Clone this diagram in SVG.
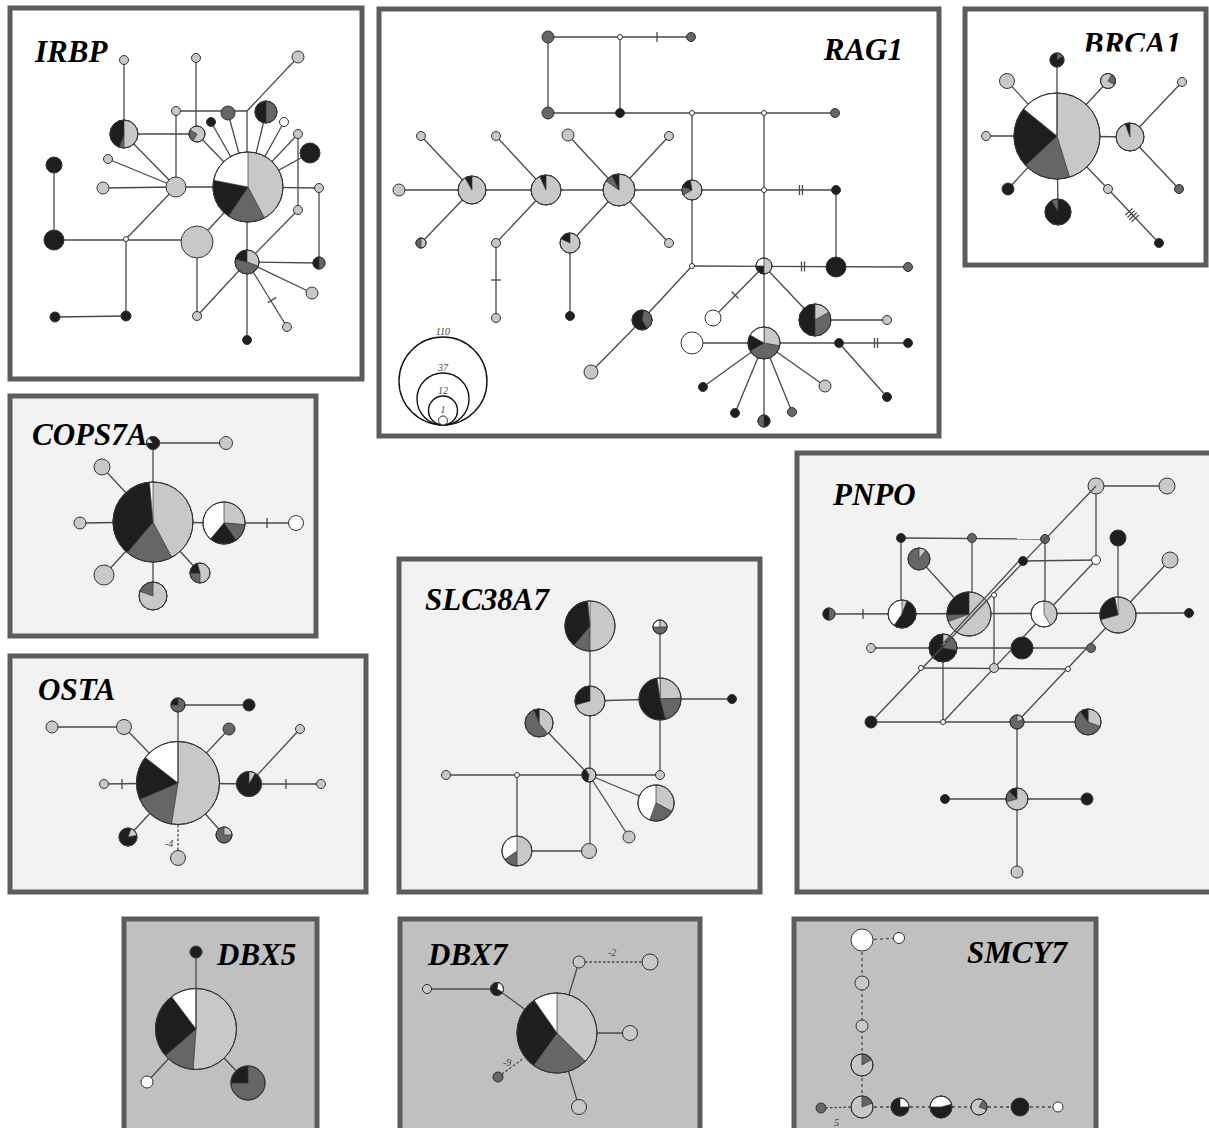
<svg xmlns="http://www.w3.org/2000/svg" width="1209" height="1128" viewBox="0 0 1209 1128">
<style>
.pw{fill:#fff;stroke:#5c5c5c;stroke-width:5}
.pm{fill:#f2f2f2;stroke:#5c5c5c;stroke-width:5}
.pg{fill:#c0c0c0;stroke:#5c5c5c;stroke-width:5}
.t{font-family:"Liberation Serif","Times New Roman",serif;font-weight:bold;font-style:italic;font-size:31px;fill:#000}
.s{font-family:"Liberation Serif","Times New Roman",serif;font-style:italic;font-size:10px;fill:#444}
.e line,.e path,line.e,path.e{stroke:#4a4a4a;stroke-width:1.3;fill:none}
.dash{stroke:#333;stroke-width:1.4;stroke-dasharray:2.5 2;fill:none}
.gd{stroke:#8a8a8a;stroke-width:1.2;stroke-dasharray:3 3;fill:none}
circle{stroke:#333;stroke-width:1}
.L{fill:#c8c8c8}.D{fill:#666}.B{fill:#1e1e1e}.W{fill:#fff}
path.L,path.D,path.B,path.W{stroke:#333;stroke-width:0.7}
.o{fill:none}
.lg{fill:none;stroke:#111;stroke-width:1.4}
</style>
<defs>
<clipPath id="brcaClip"><rect x="965" y="20" width="240" height="31.5"/></clipPath>
</defs>

<g id="panels">
<rect class="pw" x="10" y="8" width="352" height="371"/>
<rect class="pw" x="379" y="9" width="560" height="427"/>
<rect class="pw" x="965" y="9" width="241" height="256"/>
<rect class="pm" x="10" y="396" width="306" height="240"/>
<rect class="pm" x="10" y="656" width="356" height="236"/>
<rect class="pm" x="399" y="559" width="361" height="333"/>
<rect class="pm" x="797" y="453" width="420" height="439"/>
<rect class="pg" x="124" y="919" width="193" height="220"/>
<rect class="pg" x="400" y="919" width="300" height="220"/>
<rect class="pg" x="794" y="919" width="302" height="220"/>
</g>

<g id="titles">
<text class="t" x="35" y="62">IRBP</text>
<text class="t" x="903" y="60" text-anchor="end">RAG1</text>
<text class="t" x="1083" y="54" clip-path="url(#brcaClip)">BRCA1</text>
<text class="t" x="32" y="445">COPS7A</text>
<text class="t" x="38" y="700">OSTA</text>
<text class="t" x="425" y="610">SLC38A7</text>
<text class="t" x="833" y="505">PNPO</text>
<text class="t" x="217" y="965">DBX5</text>
<text class="t" x="428" y="965">DBX7</text>
<text class="t" x="967" y="963">SMCY7</text>
</g>

<g id="connectors" class="e">
<g id="irbp-edges">
<line x1="124" y1="60" x2="124" y2="134"/>
<line x1="124" y1="134" x2="197" y2="134"/>
<line x1="196" y1="58" x2="196" y2="134"/>
<line x1="176" y1="111" x2="247" y2="111"/>
<line x1="298" y1="57" x2="247" y2="111"/>
<line x1="247" y1="111" x2="247" y2="187"/>
<line x1="176" y1="111" x2="176" y2="187"/>
<line x1="124" y1="134" x2="176" y2="187"/>
<line x1="108" y1="159" x2="176" y2="187"/>
<line x1="103" y1="188" x2="176" y2="187"/>
<line x1="176" y1="187" x2="248" y2="187"/>
<line x1="197" y1="134" x2="248" y2="187"/>
<line x1="211" y1="122" x2="248" y2="187"/>
<line x1="228" y1="113" x2="248" y2="187"/>
<line x1="266" y1="112" x2="248" y2="187"/>
<line x1="284" y1="122" x2="248" y2="187"/>
<line x1="298" y1="134" x2="248" y2="187"/>
<line x1="310" y1="153" x2="248" y2="187"/>
<line x1="248" y1="187" x2="319" y2="188"/>
<line x1="319" y1="188" x2="319" y2="263"/>
<line x1="298" y1="134" x2="298" y2="210"/>
<line x1="298" y1="210" x2="247" y2="262"/>
<line x1="247" y1="262" x2="319" y2="263"/>
<line x1="247" y1="262" x2="312" y2="293"/>
<line x1="247" y1="262" x2="287" y2="327"/>
<line x1="267.7" y1="302.6" x2="276.3" y2="297.4"/>
<line x1="247" y1="187" x2="247" y2="340"/>
<line x1="247" y1="262" x2="197" y2="316"/>
<line x1="197" y1="242" x2="197" y2="316"/>
<line x1="248" y1="187" x2="197" y2="242"/>
<line x1="54" y1="240" x2="197" y2="240"/>
<line x1="54" y1="165" x2="54" y2="240"/>
<line x1="126" y1="239" x2="176" y2="187"/>
<line x1="126" y1="239" x2="126" y2="316"/>
<line x1="55" y1="317" x2="126" y2="316"/>
</g>
<g id="rag1-edges">
<line x1="548" y1="37" x2="691" y2="37"/>
<line x1="657" y1="32" x2="657" y2="42"/>
<line x1="548" y1="37" x2="548" y2="113"/>
<line x1="620" y1="37" x2="620" y2="113"/>
<line x1="548" y1="113" x2="835" y2="113"/>
<line x1="692" y1="113" x2="692" y2="266"/>
<line x1="764" y1="113" x2="764" y2="343"/>
<line x1="399" y1="190" x2="835" y2="190"/>
<line x1="799.5" y1="185" x2="799.5" y2="195"/>
<line x1="802.5" y1="185" x2="802.5" y2="195"/>
<line x1="836" y1="190" x2="836" y2="267"/>
<line x1="692" y1="266" x2="908" y2="267"/>
<line x1="801.5" y1="261.5" x2="801.5" y2="271.5"/>
<line x1="804.5" y1="261.5" x2="804.5" y2="271.5"/>
<line x1="421" y1="136" x2="472" y2="190"/>
<line x1="421" y1="243" x2="472" y2="190"/>
<line x1="496" y1="136" x2="546" y2="190"/>
<line x1="496" y1="243" x2="546" y2="190"/>
<line x1="496" y1="243" x2="496" y2="318"/>
<line x1="491" y1="280" x2="501" y2="280"/>
<line x1="568" y1="135" x2="619" y2="190"/>
<line x1="570" y1="243" x2="619" y2="190"/>
<line x1="669" y1="136" x2="619" y2="190"/>
<line x1="669" y1="243" x2="619" y2="190"/>
<line x1="570" y1="243" x2="570" y2="316"/>
<line x1="692" y1="266" x2="642" y2="320"/>
<line x1="642" y1="320" x2="591" y2="372"/>
<line x1="764" y1="266" x2="713" y2="318"/>
<line x1="731.5" y1="291.5" x2="738.5" y2="298.5"/>
<line x1="764" y1="266" x2="815" y2="320"/>
<line x1="815" y1="320" x2="887" y2="320"/>
<line x1="692" y1="343" x2="908" y2="343"/>
<line x1="874.5" y1="338" x2="874.5" y2="348"/>
<line x1="877.5" y1="338" x2="877.5" y2="348"/>
<line x1="839" y1="343" x2="887" y2="397"/>
<line x1="764" y1="343" x2="703" y2="387"/>
<line x1="764" y1="343" x2="735" y2="413"/>
<line x1="764" y1="343" x2="764" y2="421"/>
<line x1="764" y1="343" x2="792" y2="412"/>
<line x1="764" y1="343" x2="825" y2="386"/>
</g>
<g id="brca1-edges">
<line x1="1057" y1="136" x2="1057" y2="60"/>
<line x1="1057" y1="136" x2="1007" y2="81"/>
<line x1="1057" y1="136" x2="1108" y2="81"/>
<line x1="1057" y1="136" x2="986" y2="136"/>
<line x1="1057" y1="136" x2="1130" y2="137"/>
<line x1="1057" y1="136" x2="1008" y2="189"/>
<line x1="1057" y1="136" x2="1058" y2="212"/>
<line x1="1057" y1="136" x2="1108" y2="189"/>
<line x1="1130" y1="137" x2="1182" y2="82"/>
<line x1="1130" y1="137" x2="1179" y2="189"/>
<line x1="1108" y1="189" x2="1159" y2="243"/>
<line x1="1125.3" y1="215.3" x2="1132.6" y2="208.4"/>
<line x1="1127.4" y1="217.5" x2="1134.7" y2="210.6"/>
<line x1="1129.4" y1="219.7" x2="1136.7" y2="212.8"/>
<line x1="1131.5" y1="221.9" x2="1138.8" y2="215"/>
</g>
<g id="cops7a-edges">
<line x1="153" y1="443" x2="226" y2="443"/>
<line x1="153" y1="443" x2="153" y2="522"/>
<line x1="153" y1="522" x2="102" y2="467"/>
<line x1="153" y1="522" x2="80" y2="523"/>
<line x1="153" y1="522" x2="104" y2="575"/>
<line x1="153" y1="522" x2="153" y2="596"/>
<line x1="153" y1="522" x2="200" y2="573"/>
<line x1="153" y1="522" x2="224" y2="523"/>
<line x1="224" y1="523" x2="296" y2="523"/>
<line x1="267" y1="518" x2="267" y2="528"/>
</g>
<g id="osta-edges">
<line x1="178" y1="705" x2="249" y2="705"/>
<line x1="178" y1="705" x2="178" y2="783"/>
<line x1="52" y1="727" x2="124" y2="727"/>
<line x1="124" y1="727" x2="178" y2="783"/>
<line x1="229" y1="729" x2="178" y2="783"/>
<line x1="300" y1="729" x2="249" y2="784"/>
<line x1="178" y1="783" x2="249" y2="784"/>
<line x1="249" y1="784" x2="321" y2="784"/>
<line x1="286" y1="779" x2="286" y2="789"/>
<line x1="104" y1="784" x2="178" y2="783"/>
<line x1="122" y1="779" x2="122" y2="789"/>
<line x1="128" y1="837" x2="178" y2="783"/>
<line x1="224" y1="835" x2="178" y2="783"/>
<line class="dash" x1="178" y1="825" x2="178" y2="851"/>
</g>
<g id="slc38a7-edges">
<line x1="590" y1="626" x2="590" y2="851"/>
<line x1="517" y1="851" x2="589" y2="851"/>
<line x1="446" y1="775" x2="660" y2="775"/>
<line x1="517" y1="775" x2="517" y2="851"/>
<line x1="539" y1="723" x2="589" y2="775"/>
<line x1="590" y1="701" x2="660" y2="699"/>
<line x1="660" y1="699" x2="732" y2="699"/>
<line x1="660" y1="627" x2="660" y2="775"/>
<line x1="589" y1="775" x2="656" y2="803"/>
<line x1="589" y1="775" x2="629" y2="837"/>
</g>
<g id="pnpo-edges">
<line x1="1096" y1="486" x2="1167" y2="486"/>
<line x1="1096" y1="486" x2="1096" y2="560"/>
<line x1="901" y1="538" x2="1045" y2="539"/>
<line x1="901" y1="538" x2="901" y2="614"/>
<line x1="972" y1="538" x2="972" y2="600"/>
<line x1="1045" y1="539" x2="1045" y2="614"/>
<line x1="1023" y1="561" x2="1096" y2="560"/>
<line x1="1096" y1="560" x2="943" y2="722"/>
<line x1="1118" y1="538" x2="1118" y2="615"/>
<line x1="1170" y1="560" x2="1118" y2="615"/>
<line x1="829" y1="614" x2="1189" y2="613"/>
<line x1="863" y1="609" x2="863" y2="619"/>
<line x1="919" y1="559" x2="969" y2="614"/>
<line x1="871" y1="648" x2="1091" y2="648"/>
<line x1="1118" y1="615" x2="1017" y2="722"/>
<line x1="921" y1="668" x2="1068" y2="669"/>
<line x1="994" y1="595" x2="994" y2="668"/>
<line x1="943" y1="648" x2="943" y2="722"/>
<line x1="871" y1="722" x2="1088" y2="722"/>
<line x1="1017" y1="722" x2="1017" y2="872"/>
<line x1="945" y1="799" x2="1087" y2="799"/>
</g>
<g id="dbx5-edges">
<line x1="196" y1="952" x2="196" y2="1029"/>
<line x1="147" y1="1082" x2="196" y2="1029"/>
<line x1="248" y1="1083" x2="196" y2="1029"/>
</g>
<g id="dbx7-edges">
<line x1="579" y1="962" x2="557" y2="1033"/>
<line class="dash" x1="585" y1="962" x2="642" y2="962"/>
<line x1="427" y1="989" x2="497" y2="989"/>
<line x1="497" y1="989" x2="557" y2="1033"/>
<line x1="630" y1="1033" x2="557" y2="1033"/>
<line x1="579" y1="1107" x2="557" y2="1033"/>
<line class="dash" x1="502" y1="1074" x2="524" y2="1058"/>
</g>
<g id="smcy7-edges">
<line class="gd" x1="862" y1="940" x2="899" y2="938"/>
<line class="gd" x1="862" y1="940" x2="862" y2="1107"/>
<line class="gd" x1="862" y1="1107" x2="1058" y2="1107"/>
<line class="dash" x1="821" y1="1108" x2="852" y2="1107"/>
</g>
</g>

<g id="irbp-nodes">
<circle id="irbp-n1" class="L" cx="124" cy="60" r="4.5"/>
<circle id="irbp-n2" class="L" cx="196" cy="58" r="4.5"/>
<circle id="irbp-n3" class="L" cx="298" cy="57" r="6"/>
<circle id="irbp-n4" class="L" cx="176" cy="111" r="4.5"/>
<circle id="irbp-n5" class="D" cx="228" cy="113" r="7"/>
<circle id="irbp-n6" class="B" cx="211" cy="122" r="4.5"/>
<circle id="irbp-n7" class="W" cx="284" cy="122" r="4.5"/>
<circle id="irbp-n8" class="L" cx="298" cy="134" r="4.5"/>
<circle id="irbp-n9" class="B" cx="310" cy="153" r="10"/>
<circle id="irbp-n10" class="L" cx="319" cy="188" r="4.5"/>
<circle id="irbp-n11" class="L" cx="298" cy="210" r="4.5"/>
<circle id="irbp-n12" class="L" cx="312" cy="293" r="6"/>
<circle id="irbp-n13" class="L" cx="287" cy="327" r="4.5"/>
<circle id="irbp-n14" class="B" cx="247" cy="340" r="4.5"/>
<circle id="irbp-n15" class="L" cx="197" cy="316" r="4.5"/>
<circle id="irbp-n16" class="L" cx="197" cy="242" r="16"/>
<circle id="irbp-n17" class="L" cx="108" cy="159" r="4.5"/>
<circle id="irbp-n18" class="L" cx="103" cy="188" r="6"/>
<circle id="irbp-n19" class="L" cx="176" cy="187" r="10"/>
<circle id="irbp-n20" class="B" cx="54" cy="165" r="8"/>
<circle id="irbp-n21" class="B" cx="54" cy="240" r="10"/>
<circle id="irbp-n22" class="W" cx="126" cy="239" r="2.5"/>
<circle id="irbp-n23" class="B" cx="55" cy="317" r="5"/>
<circle id="irbp-n24" class="B" cx="126" cy="316" r="5"/>
<g id="irbp-hub"><circle class="L" cx="248" cy="187" r="35"/>
<path class="D" d="M248 187 L264.4 217.9 A35 35 0 0 1 228.4 216 Z"/>
<path class="B" d="M248 187 L228.4 216 A35 35 0 0 1 213.6 180.3 Z"/>
<path class="W" d="M248 187 L213.6 180.3 A35 35 0 0 1 248 152 Z"/>
<circle class="o" cx="248" cy="187" r="35"/></g>
<g id="irbp-p2"><circle class="L" cx="124" cy="134" r="14"/>
<path class="D" d="M124 134 L124 148 A14 14 0 0 1 119.2 147.2 Z"/>
<path class="B" d="M124 134 L119.2 147.2 A14 14 0 0 1 124 120 Z"/>
<circle class="o" cx="124" cy="134" r="14"/></g>
<g id="irbp-p3"><circle class="L" cx="197" cy="134" r="8"/>
<path class="D" d="M197 134 L193 140.9 A8 8 0 0 1 190.1 130 Z"/>
<circle class="o" cx="197" cy="134" r="8"/></g>
<g id="irbp-p4"><circle class="D" cx="266" cy="112" r="11"/>
<path class="B" d="M266 123 A11 11 0 0 1 266 101 Z"/>
<circle class="o" cx="266" cy="112" r="11"/></g>
<g id="irbp-p5"><circle class="D" cx="319" cy="263" r="6"/>
<path class="B" d="M319 269 A6 6 0 0 1 319 257 Z"/>
<circle class="o" cx="319" cy="263" r="6"/></g>
<g id="irbp-p6"><circle class="D" cx="247" cy="262" r="12"/>
<path class="B" d="M247 262 L235.4 258.9 A12 12 0 0 1 247 250 Z"/>
<path class="L" d="M247 262 L247 250 A12 12 0 0 1 258.3 266.1 Z"/>
<circle class="o" cx="247" cy="262" r="12"/></g>
</g>

<g id="rag1-nodes">
<circle id="rag1-n1" class="D" cx="548" cy="37" r="6"/>
<circle id="rag1-n2" class="W" cx="620" cy="37" r="2.5"/>
<circle id="rag1-n3" class="D" cx="691" cy="37" r="4.5"/>
<circle id="rag1-n4" class="D" cx="548" cy="113" r="6"/>
<circle id="rag1-n5" class="B" cx="620" cy="113" r="4.5"/>
<circle id="rag1-n6" class="W" cx="692" cy="113" r="2.5"/>
<circle id="rag1-n7" class="W" cx="764" cy="113" r="2.5"/>
<circle id="rag1-n8" class="D" cx="835" cy="113" r="4.5"/>
<circle id="rag1-n9" class="W" cx="764" cy="190" r="2.5"/>
<circle id="rag1-n10" class="B" cx="836" cy="190" r="4.5"/>
<circle id="rag1-n11" class="B" cx="836" cy="267" r="10"/>
<circle id="rag1-n12" class="D" cx="908" cy="267" r="4.5"/>
<circle id="rag1-n13" class="W" cx="692" cy="266" r="2.5"/>
<circle id="rag1-n14" class="L" cx="399" cy="190" r="6"/>
<circle id="rag1-n15" class="L" cx="421" cy="136" r="4.5"/>
<circle id="rag1-n16" class="L" cx="496" cy="136" r="4.5"/>
<circle id="rag1-n17" class="L" cx="496" cy="243" r="4.5"/>
<circle id="rag1-n18" class="L" cx="496" cy="318" r="4.5"/>
<circle id="rag1-n19" class="L" cx="568" cy="135" r="6"/>
<circle id="rag1-n20" class="B" cx="570" cy="316" r="4.5"/>
<circle id="rag1-n21" class="L" cx="669" cy="136" r="4.5"/>
<circle id="rag1-n22" class="L" cx="669" cy="243" r="4.5"/>
<circle id="rag1-n23" class="L" cx="591" cy="372" r="7"/>
<circle id="rag1-n24" class="W" cx="713" cy="318" r="8"/>
<circle id="rag1-n25" class="L" cx="887" cy="320" r="4.5"/>
<circle id="rag1-n26" class="W" cx="692" cy="343" r="11"/>
<circle id="rag1-n27" class="B" cx="839" cy="343" r="4.5"/>
<circle id="rag1-n28" class="B" cx="908" cy="343" r="4.5"/>
<circle id="rag1-n29" class="B" cx="887" cy="397" r="4.5"/>
<circle id="rag1-n30" class="B" cx="703" cy="387" r="4.5"/>
<circle id="rag1-n31" class="B" cx="735" cy="413" r="4.5"/>
<circle id="rag1-n32" class="D" cx="792" cy="412" r="4.5"/>
<circle id="rag1-n33" class="L" cx="825" cy="386" r="6"/>
<g id="rag1-p1"><circle class="L" cx="692" cy="190" r="10"/>
<path class="D" d="M692 190 L683.3 195 A10 10 0 0 1 682.6 186.6 Z"/>
<path class="B" d="M692 190 L682.6 186.6 A10 10 0 0 1 690.3 180.2 Z"/>
<circle class="o" cx="692" cy="190" r="10"/></g>
<g id="rag1-p2"><circle class="L" cx="472" cy="190" r="14"/>
<path class="B" d="M472 190 L465 177.9 A14 14 0 0 1 472 176 Z"/>
<circle class="o" cx="472" cy="190" r="14"/></g>
<g id="rag1-p3"><circle class="L" cx="546" cy="190" r="15"/>
<path class="B" d="M546 190 L539.7 176.4 A15 15 0 0 1 546 175 Z"/>
<circle class="o" cx="546" cy="190" r="15"/></g>
<g id="rag1-p4"><circle class="L" cx="619" cy="190" r="16"/>
<path class="D" d="M619 190 L605.9 180.8 A16 16 0 0 1 612.2 175.5 Z"/>
<path class="B" d="M619 190 L612.2 175.5 A16 16 0 0 1 619 174 Z"/>
<circle class="o" cx="619" cy="190" r="16"/></g>
<g id="rag1-p5"><circle class="L" cx="570" cy="243" r="10"/>
<path class="B" d="M570 243 L560.9 238.8 A10 10 0 0 1 570 233 Z"/>
<circle class="o" cx="570" cy="243" r="10"/></g>
<g id="rag1-p6"><circle class="L" cx="421" cy="243" r="5"/>
<path class="D" d="M421 248 A5 5 0 0 1 421 238 Z"/>
<circle class="o" cx="421" cy="243" r="5"/></g>
<g id="rag1-p7"><circle class="L" cx="764" cy="266" r="8"/>
<path class="B" d="M764 266 L764 274 A8 8 0 0 1 756 266 Z"/>
<path class="W" d="M764 266 L756 266 A8 8 0 0 1 764 258 Z"/>
<circle class="o" cx="764" cy="266" r="8"/></g>
<g id="rag1-p8"><circle class="B" cx="642" cy="320" r="10"/>
<path class="D" d="M642 320 L643.7 310.2 A10 10 0 0 1 647 328.7 Z"/>
<circle class="o" cx="642" cy="320" r="10"/></g>
<g id="rag1-p9"><circle class="D" cx="815" cy="320" r="16"/>
<path class="B" d="M815 336 A16 16 0 0 1 815 304 Z"/>
<path class="L" d="M815 320 L815 304 A16 16 0 0 1 828.9 312 Z"/>
<circle class="o" cx="815" cy="320" r="16"/></g>
<g id="rag1-p10"><circle class="D" cx="764" cy="343" r="16"/>
<path class="L" d="M764 343 L764 327 A16 16 0 0 1 779.8 345.8 Z"/>
<path class="B" d="M764 343 L750.1 351 A16 16 0 0 1 750.1 335 Z"/>
<path class="W" d="M764 343 L750.1 335 A16 16 0 0 1 764 327 Z"/>
<circle class="o" cx="764" cy="343" r="16"/></g>
<g id="rag1-p11"><circle class="B" cx="764" cy="421" r="6"/>
<path class="D" d="M764 427 A6 6 0 0 1 764 415 Z"/>
<circle class="o" cx="764" cy="421" r="6"/></g>
<g id="rag1-legend">
<circle class="lg" cx="443" cy="381" r="44"/>
<circle class="lg" cx="443" cy="399" r="26"/>
<circle class="lg" cx="443" cy="410.5" r="14.5"/>
<circle cx="443" cy="420.5" r="4.5" fill="#fff" stroke="#111" stroke-width="1.8"/>
<text class="s" x="443" y="335" text-anchor="middle">110</text>
<text class="s" x="443" y="371" text-anchor="middle">37</text>
<text class="s" x="443" y="394" text-anchor="middle">12</text>
<text class="s" x="443" y="413" text-anchor="middle">1</text>
</g>
</g>

<g id="brca1-nodes">
<circle id="brca1-n1" class="L" cx="1007" cy="81" r="7.5"/>
<circle id="brca1-n2" class="L" cx="1182" cy="82" r="4.5"/>
<circle id="brca1-n3" class="L" cx="986" cy="136" r="4.5"/>
<circle id="brca1-n4" class="B" cx="1008" cy="189" r="6"/>
<circle id="brca1-n5" class="L" cx="1108" cy="189" r="4.5"/>
<circle id="brca1-n6" class="D" cx="1179" cy="189" r="4.5"/>
<circle id="brca1-n7" class="B" cx="1159" cy="243" r="4.5"/>
<g id="brca1-hub"><circle class="L" cx="1057" cy="136" r="43"/>
<path class="D" d="M1057 136 L1069.6 177.1 A43 43 0 0 1 1025.5 165.3 Z"/>
<path class="B" d="M1057 136 L1025.5 165.3 A43 43 0 0 1 1023.6 108.9 Z"/>
<path class="W" d="M1057 136 L1023.6 108.9 A43 43 0 0 1 1057 93 Z"/>
<line x1="1057" y1="93" x2="1057" y2="136" stroke="#333" stroke-width="1"/>
<circle class="o" cx="1057" cy="136" r="43"/></g>
<g id="brca1-p2"><circle class="B" cx="1057" cy="60" r="7"/>
<path class="D" d="M1057 60 L1057 53 A7 7 0 0 1 1063.1 56.5 Z"/>
<circle class="o" cx="1057" cy="60" r="7"/></g>
<g id="brca1-p3"><circle class="L" cx="1108" cy="81" r="7.5"/>
<path class="D" d="M1108 81 L1111.8 74.5 A7.5 7.5 0 0 1 1114.5 84.8 Z"/>
<circle class="o" cx="1108" cy="81" r="7.5"/></g>
<g id="brca1-p4"><circle class="L" cx="1130" cy="137" r="14"/>
<path class="B" d="M1130 137 L1125.2 123.8 A14 14 0 0 1 1130 123 Z"/>
<circle class="o" cx="1130" cy="137" r="14"/></g>
<g id="brca1-p5"><circle class="B" cx="1058" cy="212" r="13"/>
<path class="D" d="M1058 212 L1051.5 200.7 A13 13 0 0 1 1058 199 Z"/>
<circle class="o" cx="1058" cy="212" r="13"/></g>
</g>

<g id="cops7a-nodes">
<circle id="cops7a-n1" class="L" cx="226" cy="443" r="6.5"/>
<circle id="cops7a-n2" class="L" cx="102" cy="467" r="8"/>
<circle id="cops7a-n3" class="L" cx="80" cy="523" r="6"/>
<circle id="cops7a-n4" class="L" cx="104" cy="575" r="10"/>
<circle id="cops7a-n5" class="W" cx="296" cy="523" r="7.5"/>
<g id="cops7a-hub"><circle class="L" cx="153" cy="522" r="40"/>
<path class="D" d="M153 522 L171.8 557.3 A40 40 0 0 1 127.3 552.6 Z"/>
<path class="B" d="M153 522 L127.3 552.6 A40 40 0 0 1 149.5 482.2 Z"/>
<path class="W" d="M153 522 L149.5 482.2 A40 40 0 0 1 153 482 Z"/>
<circle class="o" cx="153" cy="522" r="40"/></g>
<g id="cops7a-p2"><circle class="B" cx="153" cy="443" r="6.5"/>
<path class="W" d="M153 443 L146.5 443 A6.5 6.5 0 0 1 148.8 438 Z"/>
<circle class="o" cx="153" cy="443" r="6.5"/></g>
<g id="cops7a-p3"><circle class="L" cx="153" cy="596" r="14"/>
<path class="D" d="M153 596 L139.8 591.2 A14 14 0 0 1 153 582 Z"/>
<circle class="o" cx="153" cy="596" r="14"/></g>
<g id="cops7a-p4"><circle class="L" cx="200" cy="573" r="10"/>
<path class="D" d="M200 573 L200 583 A10 10 0 0 1 190 573 Z"/>
<path class="B" d="M200 573 L190 573 A10 10 0 0 1 197.4 563.3 Z"/>
<circle class="o" cx="200" cy="573" r="10"/></g>
<g id="cops7a-p5"><circle class="W" cx="224" cy="523" r="21"/>
<path class="L" d="M224 523 L224 502 A21 21 0 0 1 244.9 524.8 Z"/>
<path class="D" d="M224 523 L244.9 524.8 A21 21 0 0 1 236 540.2 Z"/>
<path class="B" d="M224 523 L236 540.2 A21 21 0 0 1 210.5 539.1 Z"/>
<circle class="o" cx="224" cy="523" r="21"/></g>
</g>

<g id="osta-nodes">
<circle id="osta-n1" class="B" cx="249" cy="705" r="6"/>
<circle id="osta-n2" class="L" cx="124" cy="727" r="7.5"/>
<circle id="osta-n3" class="L" cx="52" cy="727" r="6"/>
<circle id="osta-n4" class="D" cx="229" cy="729" r="6"/>
<circle id="osta-n5" class="L" cx="300" cy="729" r="4.5"/>
<circle id="osta-n6" class="L" cx="321" cy="784" r="4.5"/>
<circle id="osta-n7" class="L" cx="104" cy="784" r="4.5"/>
<circle id="osta-n8" class="L" cx="178" cy="858" r="7.5"/>
<text class="s" x="165" y="847">-4</text>
<g id="osta-hub"><circle class="L" cx="178" cy="783" r="41.5"/>
<path class="D" d="M178 783 L171.5 824 A41.5 41.5 0 0 1 139.8 799.2 Z"/>
<path class="B" d="M178 783 L139.8 799.2 A41.5 41.5 0 0 1 145.3 757.5 Z"/>
<path class="W" d="M178 783 L145.3 757.5 A41.5 41.5 0 0 1 178 741.5 Z"/>
<line x1="178" y1="741.5" x2="178" y2="783" stroke="#333" stroke-width="1"/>
<circle class="o" cx="178" cy="783" r="41.5"/></g>
<g id="osta-p2"><circle class="D" cx="178" cy="705" r="7"/>
<path class="B" d="M178 705 L171 705 A7 7 0 0 1 178 698 Z"/>
<circle class="o" cx="178" cy="705" r="7"/></g>
<g id="osta-p3"><circle class="B" cx="249" cy="784" r="12.5"/>
<path class="L" d="M249 784 L249 771.5 A12.5 12.5 0 0 1 255.3 773.2 Z"/>
<circle class="o" cx="249" cy="784" r="12.5"/></g>
<g id="osta-p4"><circle class="B" cx="128" cy="837" r="9"/>
<path class="L" d="M128 837 L131.1 828.5 A9 9 0 0 1 136.9 835.4 Z"/>
<circle class="o" cx="128" cy="837" r="9"/></g>
<g id="osta-p5"><circle class="D" cx="224" cy="835" r="8"/>
<path class="L" d="M224 835 L224 827 A8 8 0 0 1 232 835 Z"/>
<circle class="o" cx="224" cy="835" r="8"/></g>
</g>

<g id="slc38a7-nodes">
<circle id="slc-n1" class="L" cx="589" cy="851" r="7.5"/>
<circle id="slc-n2" class="L" cx="446" cy="775" r="4.5"/>
<circle id="slc-n3" class="W" cx="517" cy="775" r="2.5"/>
<circle id="slc-n4" class="L" cx="660" cy="775" r="4.5"/>
<circle id="slc-n5" class="B" cx="732" cy="699" r="4.5"/>
<circle id="slc-n6" class="L" cx="629" cy="837" r="6"/>
<g id="slc-hub"><circle class="L" cx="590" cy="626" r="25"/>
<path class="D" d="M590 626 L590 651 A25 25 0 0 1 573.9 645.2 Z"/>
<path class="B" d="M590 626 L573.9 645.2 A25 25 0 0 1 587.8 601.1 Z"/>
<path class="W" d="M590 626 L587.8 601.1 A25 25 0 0 1 590 601 Z"/>
<circle class="o" cx="590" cy="626" r="25"/></g>
<g id="slc-p2"><circle class="L" cx="590" cy="701" r="15"/>
<path class="B" d="M590 701 L575.5 704.9 A15 15 0 0 1 590 686 Z"/>
<circle class="o" cx="590" cy="701" r="15"/></g>
<g id="slc-p3"><circle class="L" cx="589" cy="775" r="7"/>
<path class="B" d="M589 775 L587.8 781.9 A7 7 0 0 1 585.5 768.9 Z"/>
<circle class="o" cx="589" cy="775" r="7"/></g>
<g id="slc-p4"><circle class="L" cx="517" cy="851" r="15"/>
<path class="D" d="M517 851 L517 866 A15 15 0 0 1 504.7 859.6 Z"/>
<path class="W" d="M517 851 L504.7 859.6 A15 15 0 0 1 517 836 Z"/>
<circle class="o" cx="517" cy="851" r="15"/></g>
<g id="slc-p5"><circle class="D" cx="539" cy="723" r="14"/>
<path class="L" d="M539 723 L539 709 A14 14 0 0 1 547.8 733.9 Z"/>
<path class="B" d="M539 723 L534.2 709.8 A14 14 0 0 1 539 709 Z"/>
<circle class="o" cx="539" cy="723" r="14"/></g>
<g id="slc-p6"><circle class="B" cx="660" cy="699" r="21"/>
<path class="L" d="M660 699 L660 678 A21 21 0 0 1 681 698.3 Z"/>
<path class="D" d="M660 699 L681 698.3 A21 21 0 0 1 665.4 719.3 Z"/>
<path class="W" d="M660 699 L657.1 678.2 A21 21 0 0 1 660 678 Z"/>
<circle class="o" cx="660" cy="699" r="21"/></g>
<g id="slc-p7"><circle class="D" cx="660" cy="627" r="7"/>
<path class="W" d="M660 627 L653 627 A7 7 0 0 1 660 620 Z"/>
<path class="L" d="M660 627 L660 620 A7 7 0 0 1 667 627 Z"/>
<circle class="o" cx="660" cy="627" r="7"/></g>
<g id="slc-p8"><circle class="W" cx="656" cy="803" r="18"/>
<path class="L" d="M656 803 L656 785 A18 18 0 0 1 671.9 811.5 Z"/>
<path class="D" d="M656 803 L671.9 811.5 A18 18 0 0 1 649.8 819.9 Z"/>
<circle class="o" cx="656" cy="803" r="18"/></g>
</g>

<g id="pnpo-nodes">
<circle id="pnpo-A" class="L" cx="1096" cy="486" r="8"/>
<circle id="pnpo-B" class="L" cx="1167" cy="486" r="8"/>
<circle id="pnpo-C" class="B" cx="901" cy="538" r="4.5"/>
<circle id="pnpo-D" class="D" cx="972" cy="538" r="4.5"/>
<circle id="pnpo-E" class="D" cx="1045" cy="539" r="4.5"/>
<circle id="pnpo-F" class="B" cx="1118" cy="538" r="8"/>
<circle id="pnpo-I" class="W" cx="1096" cy="560" r="4.5"/>
<circle id="pnpo-J" class="L" cx="1170" cy="560" r="8"/>
<circle id="pnpo-Q" class="B" cx="1189" cy="613" r="4.5"/>
<circle id="pnpo-R" class="L" cx="871" cy="648" r="4.5"/>
<circle id="pnpo-T" class="B" cx="1022" cy="648" r="11"/>
<circle id="pnpo-U" class="D" cx="1091" cy="648" r="4.5"/>
<circle id="pnpo-W" class="L" cx="994" cy="668" r="4.5"/>
<circle id="pnpo-AD" class="B" cx="945" cy="799" r="4.5"/>
<circle id="pnpo-AE" class="B" cx="1087" cy="799" r="6"/>
<circle id="pnpo-AF" class="L" cx="1017" cy="872" r="6"/>
<g id="pnpo-G"><circle class="D" cx="919" cy="559" r="11"/>
<path class="L" d="M919 559 L919 548 A11 11 0 0 1 925.8 550.3 Z"/>
<circle class="o" cx="919" cy="559" r="11"/></g>
<g id="pnpo-K"><circle class="D" cx="829" cy="614" r="6"/>
<path class="B" d="M829 620 A6 6 0 0 1 829 608 Z"/>
<circle class="o" cx="829" cy="614" r="6"/></g>
<g id="pnpo-L"><circle class="W" cx="902" cy="614" r="14"/>
<path class="L" d="M902 614 L902 600 A14 14 0 0 1 907.2 601 Z"/>
<path class="B" d="M902 614 L907.2 601 A14 14 0 1 1 894 625.5 Z"/>
<circle class="o" cx="902" cy="614" r="14"/></g>
<g id="pnpo-M"><circle class="L" cx="969" cy="614" r="22"/>
<path class="D" d="M969 614 L948.3 621.5 A22 22 0 0 1 947 614.8 Z"/>
<path class="B" d="M969 614 L947 614.8 A22 22 0 0 1 969 592 Z"/>
<circle class="o" cx="969" cy="614" r="22"/></g>
<g id="pnpo-O"><circle class="W" cx="1044" cy="614" r="13"/>
<path class="L" d="M1044 614 L1044 601 A13 13 0 0 1 1050.5 625.3 Z"/>
<circle class="o" cx="1044" cy="614" r="13"/></g>
<g id="pnpo-P"><circle class="L" cx="1118" cy="615" r="18"/>
<path class="B" d="M1118 615 L1100.6 619.7 A18 18 0 0 1 1114.9 597.3 Z"/>
<path class="W" d="M1118 615 L1114.9 597.3 A18 18 0 0 1 1118 597 Z"/>
<circle class="o" cx="1118" cy="615" r="18"/></g>
<g id="pnpo-S"><circle class="B" cx="943" cy="648" r="14"/>
<path class="L" d="M943 648 L943 634 A14 14 0 0 1 949.6 635.6 Z"/>
<path class="D" d="M943 648 L949.6 635.6 A14 14 0 0 1 956.8 650.4 Z"/>
<circle class="o" cx="943" cy="648" r="14"/></g>
<g id="pnpo-AA"><circle class="D" cx="1017" cy="722" r="7"/>
<path class="L" d="M1017 722 L1017 715 A7 7 0 0 1 1023.3 719 Z"/>
<circle class="o" cx="1017" cy="722" r="7"/></g>
<g id="pnpo-AB"><circle class="D" cx="1088" cy="722" r="13"/>
<path class="L" d="M1088 722 L1088 709 A13 13 0 0 1 1100.2 726.4 Z"/>
<path class="B" d="M1088 722 L1080.5 711.4 A13 13 0 0 1 1088 709 Z"/>
<circle class="o" cx="1088" cy="722" r="13"/></g>
<g id="pnpo-AC"><circle class="L" cx="1017" cy="799" r="11"/>
<path class="D" d="M1017 799 L1006.4 801.8 A11 11 0 0 1 1009.2 791.2 Z"/>
<path class="B" d="M1017 799 L1009.2 791.2 A11 11 0 0 1 1017 788 Z"/>
<circle class="o" cx="1017" cy="799" r="11"/></g>
</g>

<g id="pnpo-overlay-connectors" class="e">
<line x1="1096" y1="486" x2="871" y2="722"/>
<line x1="1020.8" y1="558.9" x2="940.8" y2="645.9"/>
</g>
<g id="pnpo-nodes-top">
<circle id="pnpo-H" class="B" cx="1023" cy="561" r="4.5"/>
<circle id="pnpo-N" class="W" cx="994" cy="595" r="2.5"/>
<circle id="pnpo-V" class="W" cx="921" cy="668" r="2.5"/>
<circle id="pnpo-X" class="W" cx="1068" cy="669" r="2.5"/>
<circle id="pnpo-Y" class="B" cx="871" cy="722" r="6"/>
<circle id="pnpo-Z" class="W" cx="943" cy="722" r="2.5"/>
</g>

<g id="dbx5-nodes">
<circle id="dbx5-n1" class="B" cx="196" cy="952" r="6"/>
<circle id="dbx5-n2" class="W" cx="147" cy="1082" r="6"/>
<g id="dbx5-hub"><circle class="L" cx="196" cy="1029" r="40.5"/>
<path class="D" d="M196 1029 L193.2 1069.4 A40.5 40.5 0 0 1 165.4 1055.6 Z"/>
<path class="B" d="M196 1029 L165.4 1055.6 A40.5 40.5 0 0 1 171.6 996.7 Z"/>
<path class="W" d="M196 1029 L171.6 996.7 A40.5 40.5 0 0 1 196 988.5 Z"/>
<line x1="196" y1="988.5" x2="196" y2="1029" stroke="#333" stroke-width="1"/>
<circle class="o" cx="196" cy="1029" r="40.5"/></g>
<g id="dbx5-p2"><circle class="D" cx="248" cy="1083" r="17"/>
<path class="B" d="M248 1083 L231 1083 A17 17 0 0 1 248 1066 Z"/>
<circle class="o" cx="248" cy="1083" r="17"/></g>
</g>

<g id="dbx7-nodes">
<circle id="dbx7-n1" class="L" cx="579" cy="962" r="6"/>
<circle id="dbx7-n2" class="L" cx="650" cy="962" r="8"/>
<circle id="dbx7-n3" class="L" cx="427" cy="989" r="4.5"/>
<circle id="dbx7-n4" class="L" cx="630" cy="1033" r="7.5"/>
<circle id="dbx7-n5" class="L" cx="579" cy="1107" r="7.5"/>
<circle id="dbx7-n6" class="D" cx="498" cy="1077" r="5"/>
<text class="s" x="608" y="956" font-size="9">-2</text>
<text class="s" x="503" y="1066" font-size="9">-9</text>
<g id="dbx7-hub"><circle class="L" cx="557" cy="1033" r="40"/>
<path class="D" d="M557 1033 L585.3 1061.3 A40 40 0 0 1 533.5 1065.4 Z"/>
<path class="B" d="M557 1033 L533.5 1065.4 A40 40 0 0 1 534.1 1000.2 Z"/>
<path class="W" d="M557 1033 L534.1 1000.2 A40 40 0 0 1 557 993 Z"/>
<circle class="o" cx="557" cy="1033" r="40"/></g>
<g id="dbx7-p2"><circle class="B" cx="497" cy="989" r="6.5"/>
<path class="W" d="M497 989 L498.1 982.6 A6.5 6.5 0 0 1 502.6 992.3 Z"/>
<circle class="o" cx="497" cy="989" r="6.5"/></g>
</g>

<g id="smcy7-nodes">
<circle id="smcy7-n1" class="W" cx="862" cy="940" r="11"/>
<circle id="smcy7-n2" class="W" cx="899" cy="938" r="5.5"/>
<circle id="smcy7-n3" class="L" cx="862" cy="983" r="7"/>
<circle id="smcy7-n4" class="L" cx="862" cy="1026" r="6"/>
<circle id="smcy7-n5" class="D" cx="821" cy="1108" r="5"/>
<circle id="smcy7-n6" class="B" cx="1020" cy="1107" r="9"/>
<circle id="smcy7-n7" class="W" cx="1058" cy="1107" r="5"/>
<text class="s" x="834" y="1126" font-size="11">5</text>
<g id="smcy7-p1"><circle class="L" cx="862" cy="1065" r="11"/>
<path class="D" d="M862 1065 L862 1054 A11 11 0 0 1 871.5 1059.5 Z"/>
<circle class="o" cx="862" cy="1065" r="11"/></g>
<g id="smcy7-p2"><circle class="L" cx="862" cy="1107" r="11"/>
<path class="D" d="M862 1107 L862 1096 A11 11 0 0 1 872.3 1103.2 Z"/>
<circle class="o" cx="862" cy="1107" r="11"/></g>
<g id="smcy7-p3"><circle class="B" cx="900" cy="1107" r="9"/>
<path class="W" d="M900 1107 L900 1098 A9 9 0 0 1 909 1107 Z"/>
<circle class="o" cx="900" cy="1107" r="9"/></g>
<g id="smcy7-p4"><circle class="B" cx="941" cy="1107" r="11"/>
<path class="W" d="M941 1107 L930 1107 A11 11 0 0 1 951.6 1104.2 Z"/>
<circle class="o" cx="941" cy="1107" r="11"/></g>
<g id="smcy7-p5"><circle class="L" cx="979" cy="1107" r="8"/>
<path class="D" d="M979 1107 L983 1100.1 A8 8 0 0 1 986.5 1109.7 Z"/>
<circle class="o" cx="979" cy="1107" r="8"/></g>
</g>
</svg>
